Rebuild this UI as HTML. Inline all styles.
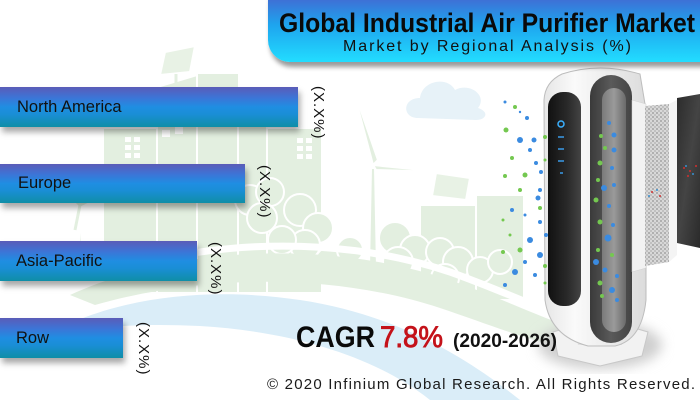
<!DOCTYPE html>
<html><head><meta charset="utf-8">
<style>
html,body{margin:0;padding:0;background:#fff;}
#w{position:relative;width:700px;height:400px;overflow:hidden;background:#fff;font-family:"Liberation Sans",Arial,sans-serif;}
svg{position:absolute;left:0;top:0;}
.bar{position:absolute;left:0;height:40px;background:linear-gradient(180deg,#5a5cb8 0%,#3d74d6 26%,#1f8ee2 50%,#1a8ed6 68%,#0f8ea6 100%);box-shadow:2px 5px 6px rgba(0,0,0,0.35);color:#111;font-size:16.5px;line-height:40px;}
.bar span{position:absolute;top:0;}
.val{position:absolute;writing-mode:vertical-rl;font-size:15px;letter-spacing:1px;color:#111;line-height:16px;}
.title{position:absolute;left:268px;top:-22px;width:470px;height:84px;border-radius:22px;background:linear-gradient(180deg,#5256c0 0%,#3f6fd4 25%,#1ea3ee 55%,#22ddff 100%);box-shadow:2px 5px 5px rgba(0,0,0,0.4);}
</style></head><body><div id="w">
<svg width="700" height="400" viewBox="0 0 700 400">
<defs>
<pattern id="chk" width="4" height="4" patternUnits="userSpaceOnUse"><rect width="4" height="4" fill="#d8d8d8"/><rect width="2" height="2" fill="#b0b0b0"/><rect x="2" y="2" width="2" height="2" fill="#c0c0c0"/></pattern>
<linearGradient id="body" x1="0" x2="1" y1="0" y2="0"><stop offset="0" stop-color="#e6e6e6"/><stop offset="0.3" stop-color="#fafafa"/><stop offset="1" stop-color="#dcdcdc"/></linearGradient>
<linearGradient id="blk" x1="0" x2="1"><stop offset="0" stop-color="#111"/><stop offset="0.6" stop-color="#2a2a2a"/><stop offset="1" stop-color="#444"/></linearGradient>
<linearGradient id="strip" x1="0" x2="1"><stop offset="0" stop-color="#3a3a3a"/><stop offset="0.5" stop-color="#5a5a5a"/><stop offset="1" stop-color="#444"/></linearGradient>
<linearGradient id="inner" x1="0" x2="1"><stop offset="0" stop-color="#7a7a7a"/><stop offset="0.5" stop-color="#9a9a9a"/><stop offset="1" stop-color="#6a6a6a"/></linearGradient>
<linearGradient id="dark" x1="0" x2="1" y1="0" y2="1"><stop offset="0" stop-color="#2c2c2c"/><stop offset="0.5" stop-color="#444"/><stop offset="1" stop-color="#2a2a2a"/></linearGradient>
<filter id="bl"><feGaussianBlur stdDeviation="6"/></filter>
</defs>
<!-- background -->
<g fill="#e3efe0" stroke="#fff" stroke-width="2">
<path d="M40,340 C100,300 200,285 300,300 C400,315 470,360 520,400 L430,400 C380,360 300,332 200,326 C120,322 70,330 40,340 Z" fill="#daedf8" stroke="none"/>
<path d="M78,275 L80,205 L83,275 Z"/>
<path d="M80,205 L60,185 M80,205 L100,195 M80,205 L75,230" stroke="#e3efe0" stroke-width="3"/>
<rect x="103" y="128" width="70" height="165"/>
<path d="M157,87 L197,75 L223,87 L223,293 L157,293 Z"/>
<rect x="197" y="73" width="42" height="220"/>
<rect x="238" y="105" width="32" height="188"/>
<rect x="267" y="128" width="55" height="165"/>
<path d="M165,52 L195,46 L190,72 L160,75 Z" fill="#e8f2e5"/>
<line x1="176" y1="74" x2="176" y2="84" stroke="#e3efe0" stroke-width="3"/>
<g fill="#fff" stroke="none">
<rect x="125" y="137" width="6" height="5"/><rect x="134" y="137" width="6" height="5"/><rect x="125" y="145" width="6" height="5"/><rect x="134" y="145" width="6" height="5"/><rect x="125" y="153" width="6" height="5"/><rect x="134" y="153" width="6" height="5"/>
<rect x="297" y="138" width="6" height="5"/><rect x="306" y="138" width="6" height="5"/><rect x="297" y="146" width="6" height="5"/><rect x="306" y="146" width="6" height="5"/><rect x="297" y="154" width="6" height="5"/><rect x="306" y="154" width="6" height="5"/>
<rect x="162" y="130" width="8" height="7"/><rect x="175" y="127" width="8" height="7"/>
</g>
<path d="M371,168 L369,268 L377,268 L375,168 Z"/>
<path d="M373,165 L352,85 L378,160 Z M373,165 L442,172 L376,170 Z M373,165 L332,232 L370,166 Z"/>
<path d="M418,118 C402,118 402,98 420,98 C422,80 448,76 455,90 C470,82 488,96 478,108 C490,112 486,120 476,120 Z" fill="#e7f2f8" stroke="none"/>
<rect x="420" y="205" width="60" height="95"/>
<rect x="476" y="195" width="48" height="105"/>
<path d="M436,173 L470,178 L466,200 L432,196 Z" fill="#e8f2e5"/>
<circle cx="250" cy="200" r="15"/><circle cx="270" cy="192" r="14"/><circle cx="262" cy="218" r="15"/>
<circle cx="300" cy="210" r="16"/><circle cx="318" cy="228" r="15"/><circle cx="305" cy="245" r="15"/><circle cx="282" cy="240" r="14"/>
<circle cx="330" cy="262" r="15"/><circle cx="350" cy="250" r="13"/>
<circle cx="395" cy="238" r="16"/><circle cx="415" cy="250" r="15"/><circle cx="398" cy="262" r="15"/>
<circle cx="440" cy="252" r="14"/><circle cx="458" cy="262" r="15"/><circle cx="445" cy="278" r="14"/>
<circle cx="480" cy="270" r="13"/><circle cx="500" cy="262" r="12"/>
<circle cx="110" cy="270" r="12"/><circle cx="130" cy="262" r="12"/>
<path d="M70,295 C180,245 330,240 450,280 C520,305 560,328 610,338 L610,355 C550,350 500,328 440,308 C330,272 200,275 95,305 Z" stroke="none"/>
<path d="M60,292 C180,238 330,232 450,272 C520,297 560,320 612,330" fill="none" stroke="#fff" stroke-width="7"/>
</g>
<!-- purifier -->
<ellipse cx="600" cy="345" rx="62" ry="24" fill="#cfcfcf" filter="url(#bl)"/>
<path d="M553,332 L600,318 L648,332 L642,356 L600,366 L558,356 Z" fill="#f2f2f2" stroke="#c8c8c8" stroke-width="1"/>
<path d="M575,330 L625,330 L622,345 L578,345 Z" fill="#e2e2e2"/>
<path d="M562,74 Q600,62 640,74 L646,110 L646,300 Q642,340 615,346 L588,346 Q550,336 545,300 L544,100 Q545,82 562,74 Z" fill="url(#body)" stroke="#bdbdbd" stroke-width="1"/>
<rect x="548" y="92" width="33" height="214" rx="15" fill="url(#blk)"/>
<rect x="590" y="75" width="42" height="268" rx="21" fill="url(#strip)"/>
<rect x="602" y="88" width="24" height="244" rx="12" fill="url(#inner)"/>
<circle cx="561" cy="124" r="3" fill="none" stroke="#3ab0ff" stroke-width="1.5"/>
<g stroke="#3a9be8" stroke-width="1.5"><line x1="558" y1="137" x2="564" y2="137"/><line x1="558" y1="149" x2="564" y2="149"/><line x1="558" y1="161" x2="564" y2="161"/><line x1="560" y1="173" x2="563" y2="173"/></g>
<!-- filters -->
<path d="M632,100 L646,104 L646,268 L632,272 Z" fill="#f2f2f2" stroke="#d0d0d0" stroke-width="0.5"/>
<path d="M645,106 L669,104 L669,262 L645,266 Z" fill="url(#chk)"/>
<path d="M669,104 L677,100 L677,255 L669,262 Z" fill="#f4f4f4"/>
<path d="M677,98 L700,94 L700,248 L677,243 Z" fill="url(#dark)"/>
<g fill="#d03030"><circle cx="684" cy="168" r="1"/><circle cx="690" cy="171" r="1"/><circle cx="696" cy="166" r="1"/><circle cx="688" cy="176" r="1"/><circle cx="652" cy="192" r="1"/><circle cx="660" cy="196" r="1"/></g>
<g fill="#3a8fd0"><circle cx="686" cy="166" r="1"/><circle cx="693" cy="174" r="1"/><circle cx="649" cy="196" r="1"/><circle cx="657" cy="190" r="1"/></g>
<!-- dots -->
<g>
<circle cx="505" cy="102" r="1.5" fill="#3b8be0"/><circle cx="515" cy="107" r="2" fill="#74c850"/><circle cx="520" cy="112" r="1.2" fill="#3b8be0"/><circle cx="527" cy="118" r="2" fill="#3b8be0"/><circle cx="506" cy="130" r="2.5" fill="#74c850"/><circle cx="520" cy="140" r="3" fill="#3b8be0"/><circle cx="534" cy="140" r="2.5" fill="#3b8be0"/><circle cx="545" cy="137" r="2" fill="#74c850"/><circle cx="530" cy="150" r="2" fill="#3b8be0"/><circle cx="512" cy="158" r="2" fill="#74c850"/><circle cx="536" cy="163" r="2" fill="#3b8be0"/><circle cx="545" cy="160" r="1.5" fill="#74c850"/><circle cx="525" cy="175" r="2.5" fill="#74c850"/><circle cx="541" cy="172" r="2" fill="#3b8be0"/><circle cx="505" cy="176" r="2" fill="#74c850"/><circle cx="540" cy="190" r="2" fill="#3b8be0"/><circle cx="520" cy="190" r="2" fill="#74c850"/><circle cx="538" cy="198" r="2.5" fill="#3b8be0"/><circle cx="512" cy="210" r="2" fill="#3b8be0"/><circle cx="540" cy="208" r="2" fill="#74c850"/><circle cx="525" cy="215" r="1.5" fill="#3b8be0"/><circle cx="503" cy="220" r="1.5" fill="#74c850"/><circle cx="540" cy="222" r="2" fill="#3b8be0"/><circle cx="510" cy="235" r="1.5" fill="#74c850"/><circle cx="530" cy="240" r="3" fill="#3b8be0"/><circle cx="546" cy="235" r="2" fill="#3b8be0"/><circle cx="520" cy="250" r="2.5" fill="#74c850"/><circle cx="540" cy="255" r="3" fill="#3b8be0"/><circle cx="503" cy="252" r="2" fill="#74c850"/><circle cx="525" cy="262" r="2" fill="#3b8be0"/><circle cx="545" cy="266" r="2" fill="#74c850"/><circle cx="515" cy="272" r="3" fill="#3b8be0"/><circle cx="535" cy="275" r="2" fill="#3b8be0"/><circle cx="545" cy="283" r="1.5" fill="#74c850"/><circle cx="505" cy="285" r="2" fill="#3b8be0"/>
<circle cx="609" cy="123" r="2" fill="#3b8be0"/><circle cx="614" cy="135" r="2.5" fill="#3b8be0"/><circle cx="601" cy="136" r="2" fill="#74c850"/><circle cx="605" cy="148" r="2" fill="#74c850"/><circle cx="614" cy="150" r="2.5" fill="#3b8be0"/><circle cx="600" cy="163" r="2.5" fill="#74c850"/><circle cx="612" cy="168" r="2" fill="#3b8be0"/><circle cx="598" cy="180" r="2" fill="#74c850"/><circle cx="614" cy="185" r="2" fill="#3b8be0"/><circle cx="604" cy="188" r="3" fill="#3b8be0"/><circle cx="596" cy="200" r="2.5" fill="#74c850"/><circle cx="609" cy="206" r="2" fill="#3b8be0"/><circle cx="600" cy="222" r="2.5" fill="#74c850"/><circle cx="613" cy="225" r="2" fill="#3b8be0"/><circle cx="608" cy="238" r="3.5" fill="#3b8be0"/><circle cx="598" cy="250" r="2" fill="#74c850"/><circle cx="612" cy="255" r="2" fill="#74c850"/><circle cx="596" cy="262" r="3" fill="#3b8be0"/><circle cx="605" cy="270" r="2.5" fill="#3b8be0"/><circle cx="617" cy="276" r="2" fill="#3b8be0"/><circle cx="600" cy="283" r="2.5" fill="#74c850"/><circle cx="612" cy="290" r="3" fill="#3b8be0"/><circle cx="602" cy="296" r="2" fill="#74c850"/><circle cx="617" cy="300" r="2" fill="#3b8be0"/>
</g>
</svg>
<div class="title"></div>
<svg width="700" height="400" viewBox="0 0 700 400" style="font-family:'Liberation Sans',Arial,sans-serif">
<text x="279" y="32" font-size="27" font-weight="bold" fill="#0a0a0a" textLength="416" lengthAdjust="spacingAndGlyphs">Global Industrial Air Purifier Market</text>
<text x="343" y="51" font-size="16" fill="#111" textLength="288" lengthAdjust="spacing">Market by Regional Analysis (%)</text>
<text x="296" y="347" font-size="30" font-weight="bold" fill="#0a0a0a" textLength="79" lengthAdjust="spacingAndGlyphs">CAGR</text>
<text x="380" y="347" font-size="30" fill="#c4121a" stroke="#c4121a" stroke-width="0.9" textLength="63" lengthAdjust="spacingAndGlyphs">7.8%</text>
<text x="453" y="347" font-size="19" font-weight="bold" fill="#111" textLength="104" lengthAdjust="spacingAndGlyphs">(2020-2026)</text>
<text x="267" y="389" font-size="15" fill="#1a1a1a" textLength="428" lengthAdjust="spacing">© 2020 Infinium Global Research. All Rights Reserved.</text>
</svg>
<div class="bar" style="top:87px;width:298px;"><span style="left:17px">North America</span></div>
<div class="bar" style="top:164px;width:245px;height:39px;line-height:39px;"><span style="left:18px">Europe</span></div>
<div class="bar" style="top:241px;width:197px;"><span style="left:16px">Asia-Pacific</span></div>
<div class="bar" style="top:318px;width:123px;"><span style="left:16px">Row</span></div>
<div class="val" style="left:310px;top:86px;">(X.X%)</div>
<div class="val" style="left:256px;top:165px;">(X.X%)</div>
<div class="val" style="left:207px;top:242px;">(X.X%)</div>
<div class="val" style="left:135px;top:322px;">(X.X%)</div>
</div></body></html>
